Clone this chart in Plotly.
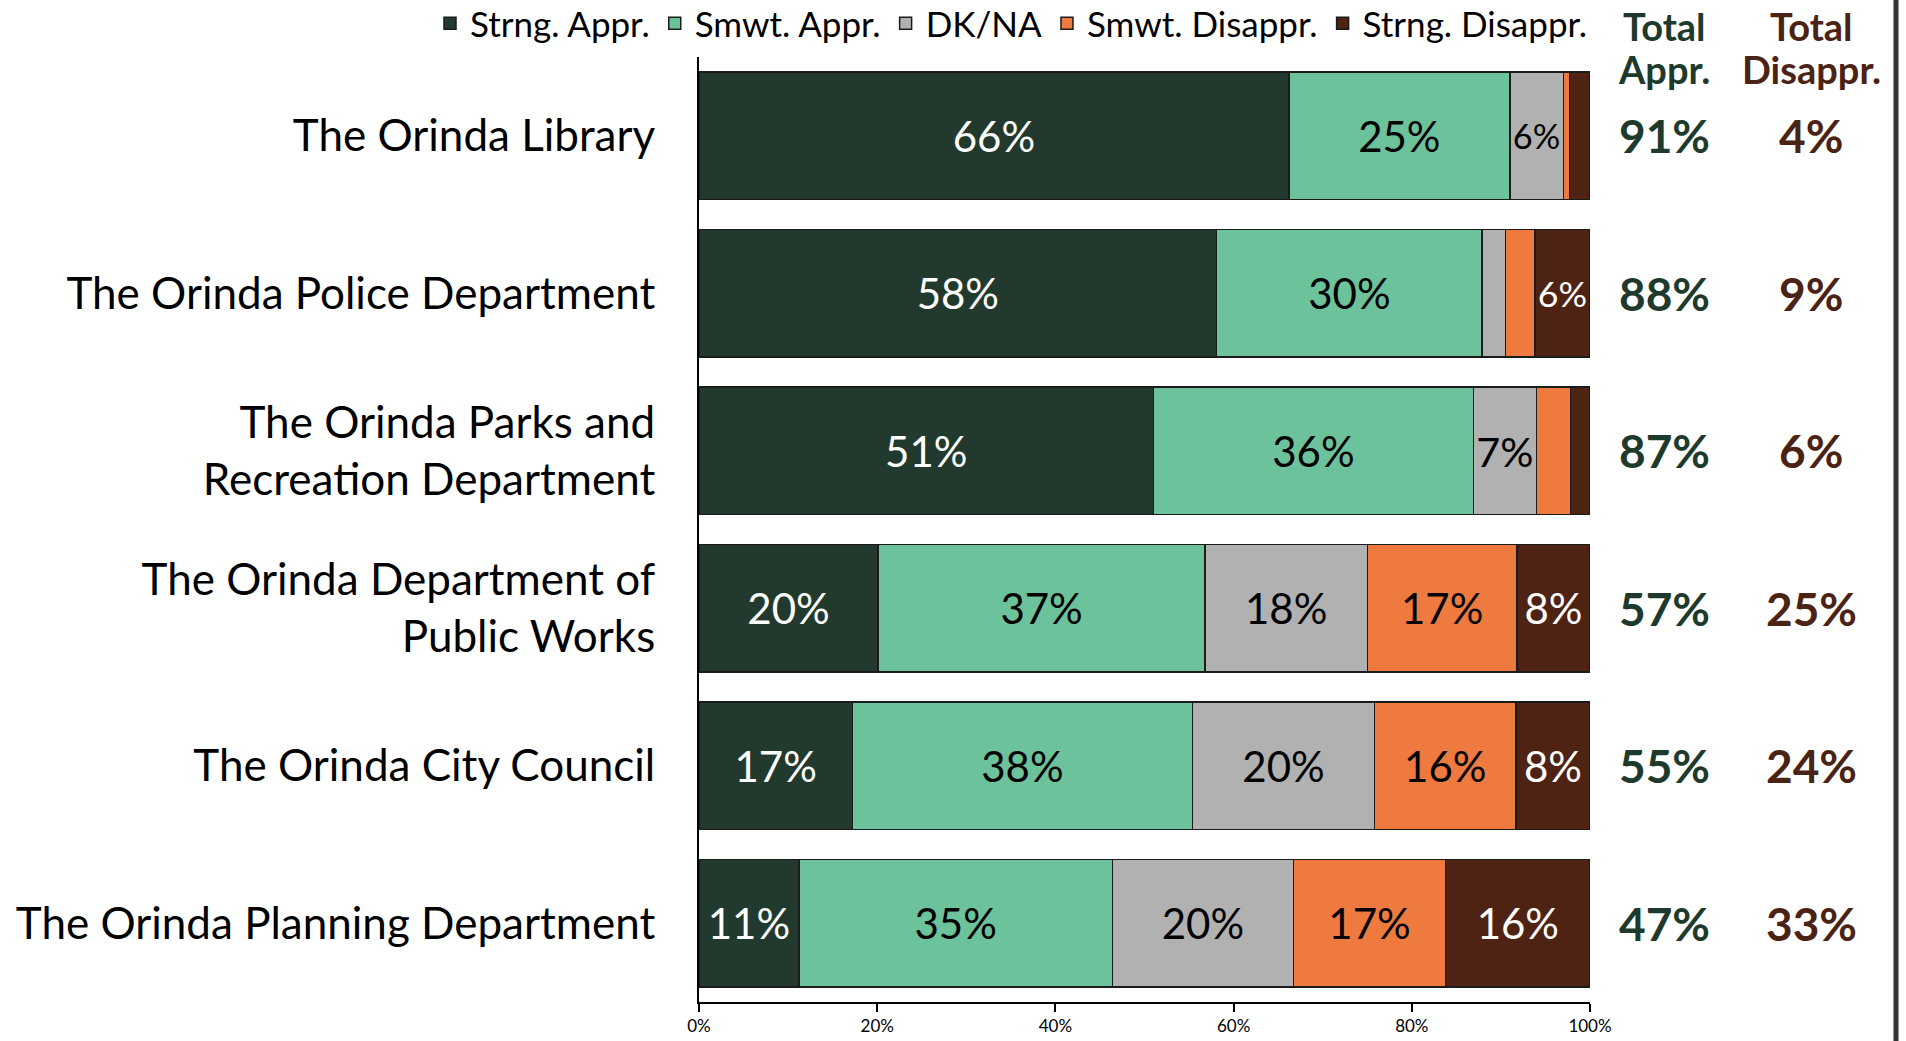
import plotly.graph_objects as go

categories = [
    "The Orinda Library",
    "The Orinda Police Department",
    "The Orinda Parks and<br>Recreation Department",
    "The Orinda Department of<br>Public Works",
    "The Orinda City Council",
    "The Orinda Planning Department",
]
series_names = ["Strng. Appr.", "Smwt. Appr.", "DK/NA", "Smwt. Disappr.", "Strng. Disappr."]
strng_appr = [66.2, 58.1, 51.0, 20.1, 17.2, 11.2]
smwt_appr = [24.8, 29.8, 35.9, 36.7, 38.2, 35.2]
dk_na = [6.0, 2.6, 7.1, 18.2, 20.4, 20.3]
smwt_disappr = [0.7, 3.3, 3.8, 16.8, 15.9, 17.1]
strng_disappr = [2.3, 6.2, 2.2, 8.2, 8.3, 16.2]
total_appr = [91, 88, 87, 57, 55, 47]
total_disappr = [4, 9, 6, 25, 24, 33]
x_ticks = [0, 20, 40, 60, 80, 100]
x_tick_labels = ["0%", "20%", "40%", "60%", "80%", "100%"]

colors = ["#213A2D", "#6CC29A", "#B1B1B1", "#EE7A40", "#4E2313"]
text_colors = ["white", "black", "black", "black", "white"]
FONT = "Lato"
APPR_COL = "#1D3A2C"
DIS_COL = "#4B2314"

W, H = 1906, 1041
x0, x1 = 699, 1590
y_top, y_bot = 57, 1002
xd = [x0 / W, x1 / W]
yd = [1 - y_bot / H, 1 - y_top / H]

fig = go.Figure()
all_series = [strng_appr, smwt_appr, dk_na, smwt_disappr, strng_disappr]
for name, vals, col, tcol in zip(series_names, all_series, colors, text_colors):
    fig.add_trace(go.Bar(
        y=categories, x=vals, name=name, orientation="h",
        marker=dict(color=col, line=dict(color="#1b1b1b", width=1.5)),
        text=[f"{round(v)}%" if v >= 5 else "" for v in vals],
        textposition="inside", insidetextanchor="middle", textangle=0,
        textfont=dict(family=FONT, size=42, color=tcol),
        hoverinfo="skip",
    ))

annotations = []
hdr = [("Total", "Appr.", 1664, APPR_COL), ("Total", "Disappr.", 1811, DIS_COL)]
for l1, l2, xc, col in hdr:
    for txt, yc in ((l1, 26), (l2, 69)):
        annotations.append(dict(x=xc / W, y=1 - yc / H, xref="paper", yref="paper",
                                text=f"<b>{txt}</b>", showarrow=False,
                                font=dict(family=FONT, size=38, color=col),
                                xanchor="center", yanchor="middle"))
for cat, ta, td in zip(categories, total_appr, total_disappr):
    annotations.append(dict(x=1664 / W, y=cat, xref="paper", yref="y",
                            text=f"<b>{ta}%</b>", showarrow=False,
                            font=dict(family=FONT, size=46, color=APPR_COL),
                            xanchor="center", yanchor="middle"))
    annotations.append(dict(x=1811 / W, y=cat, xref="paper", yref="y",
                            text=f"<b>{td}%</b>", showarrow=False,
                            font=dict(family=FONT, size=46, color=DIS_COL),
                            xanchor="center", yanchor="middle"))

fig.update_layout(
    width=W, height=H,
    margin=dict(l=0, r=0, t=0, b=0, autoexpand=False),
    barmode="stack", bargap=0.19,
    plot_bgcolor="white", paper_bgcolor="white",
    font=dict(family=FONT, color="black"),
    showlegend=True,
    legend=dict(orientation="h", x=430 / W, y=1 + 6 / H, xanchor="left", yanchor="top",
                font=dict(family=FONT, size=35, color="black"),
                traceorder="normal", itemwidth=30, bgcolor="rgba(0,0,0,0)"),
    xaxis=dict(domain=xd, range=[0, 100], tickvals=x_ticks, ticktext=x_tick_labels,
               showgrid=False, zeroline=False, showline=True, linecolor="black", linewidth=2,
               ticks="outside", ticklen=8, tickcolor="black", tickwidth=1.5,
               tickfont=dict(family=FONT, size=17, color="black"), automargin=False),
    yaxis=dict(domain=yd, autorange="reversed", showgrid=False, zeroline=False,
               showline=True, linecolor="black", linewidth=2, ticks="",
               ticklabelstandoff=33,
               tickfont=dict(family=FONT, size=44, color="black"), automargin=False),
    annotations=annotations,
    shapes=[dict(type="line", xref="paper", yref="paper", x0=1896 / W, x1=1896 / W,
                 y0=0, y1=1, line=dict(color="#333333", width=5))],
)

fig.write_html("out.html", config={"displayModeBar": False},
               post_script="document.body.style.margin='0';document.body.style.overflow='hidden';")
